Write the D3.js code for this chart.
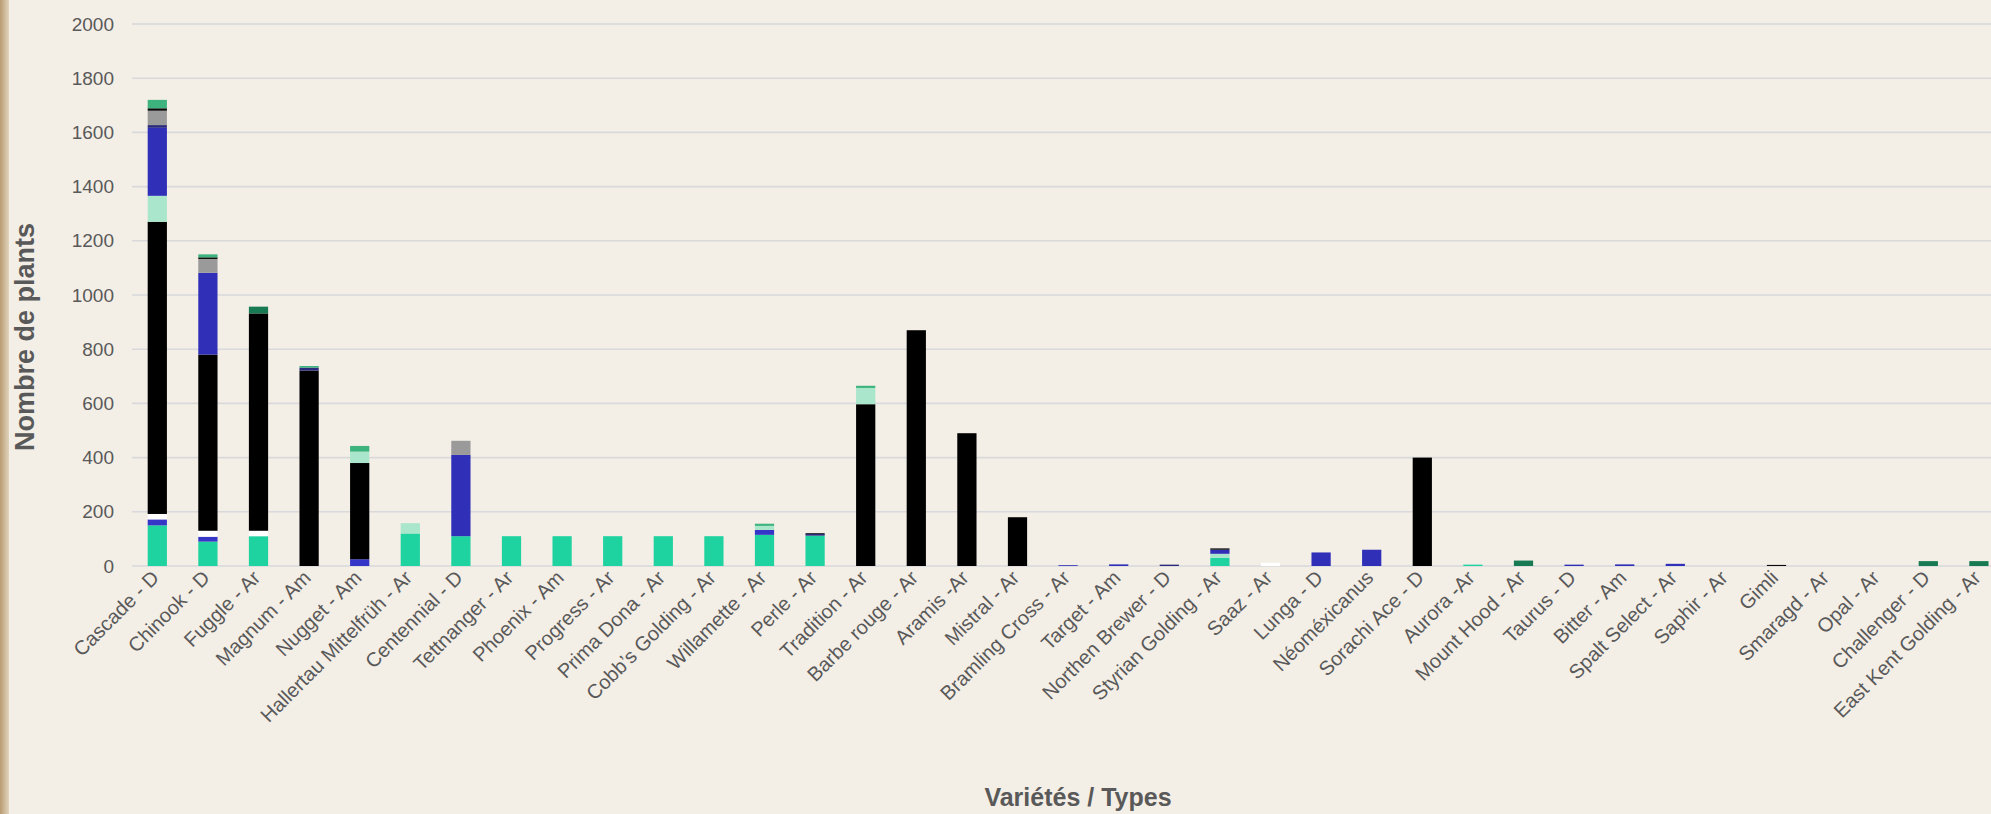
<!DOCTYPE html>
<html>
<head>
<meta charset="utf-8">
<script src="https://cdn.jsdelivr.net/npm/d3@7"></script>
<style>
    body { margin: 0; background: #f3eee6; }
    svg { display: block; }
</style>
</head>
<body>
<div id="chart-area"></div>
<script>
// categories + one array per stacked series (bottom to top)
var categories = ["Cascade - D", "Chinook - D", "Fuggle - Ar", "Magnum - Am", "Nugget - Am",
    "Hallertau Mittelfrüh - Ar", "Centennial - D", "Tettnanger - Ar", "Phoenix - Am", "Progress - Ar",
    "Prima Dona - Ar", "Cobb’s Golding - Ar", "Willamette - Ar", "Perle - Ar", "Tradition - Ar",
    "Barbe rouge - Ar", "Aramis -Ar", "Mistral - Ar", "Bramling Cross - Ar", "Target - Am",
    "Northen Brewer - D", "Styrian Golding - Ar", "Saaz - Ar", "Lunga - D", "Néoméxicanus",
    "Sorachi Ace - D", "Aurora -Ar", "Mount Hood - Ar", "Taurus - D", "Bitter - Am",
    "Spalt Select - Ar", "Saphir - Ar", "Gimli", "Smaragd - Ar", "Opal - Ar",
    "Challenger - D", "East Kent Golding - Ar"];

var teal      = [150, 90, 110, 0, 0, 120, 110, 110, 110, 110, 110, 110, 115, 112, 0, 0, 0, 0, 0, 0, 0, 30, 0, 0, 0, 0, 5, 0, 0, 0, 0, 0, 0, 0, 0, 0, 0];
var blueLow   = [22, 18, 0, 0, 25, 0, 0, 0, 0, 0, 0, 0, 18, 0, 0, 0, 0, 0, 0, 0, 0, 0, 0, 0, 0, 0, 0, 0, 0, 0, 0, 0, 0, 0, 0, 0, 0];
var white     = [20, 22, 20, 0, 0, 0, 0, 0, 0, 0, 0, 0, 0, 0, 0, 0, 0, 0, 0, 0, 0, 0, 12, 0, 0, 0, 0, 0, 0, 0, 0, 0, 0, 0, 0, 0, 0];
var black     = [1078, 650, 802, 721, 355, 0, 0, 0, 0, 0, 0, 0, 0, 0, 597, 870, 490, 180, 0, 0, 0, 0, 0, 0, 0, 400, 0, 0, 0, 0, 0, 0, 0, 0, 0, 0, 0];
var lightGreen= [96, 0, 0, 0, 42, 38, 0, 0, 0, 0, 0, 0, 15, 0, 60, 0, 0, 0, 0, 0, 0, 15, 0, 0, 0, 0, 0, 0, 0, 0, 0, 0, 0, 0, 0, 0, 0];
var blue      = [251, 302, 0, 0, 0, 0, 300, 0, 0, 0, 0, 0, 0, 0, 0, 0, 0, 0, 3, 6, 0, 15, 0, 50, 60, 0, 0, 0, 5, 6, 8, 0, 0, 0, 0, 0, 0];
var navy      = [10, 0, 0, 11, 0, 0, 0, 0, 0, 0, 0, 0, 0, 6, 0, 0, 0, 0, 0, 0, 5, 0, 0, 0, 0, 0, 0, 0, 0, 0, 0, 0, 0, 0, 0, 0, 0];
var gray      = [53, 51, 0, 0, 0, 0, 52, 0, 0, 0, 0, 0, 0, 0, 0, 0, 0, 0, 0, 0, 0, 0, 0, 0, 0, 0, 0, 0, 0, 0, 0, 0, 0, 0, 0, 0, 0];
var blackTop  = [9, 6, 0, 0, 0, 0, 0, 0, 0, 0, 0, 0, 0, 3, 0, 0, 0, 0, 0, 0, 0, 5, 0, 0, 0, 0, 0, 0, 0, 0, 0, 0, 4, 0, 0, 0, 0];
var green     = [31, 11, 0, 6, 21, 0, 0, 0, 0, 0, 0, 0, 8, 0, 8, 0, 0, 0, 0, 0, 0, 0, 0, 0, 0, 0, 0, 0, 0, 0, 0, 0, 0, 0, 0, 0, 0];
var darkGreen = [0, 0, 25, 0, 0, 0, 0, 0, 0, 0, 0, 0, 0, 0, 0, 0, 0, 0, 0, 0, 0, 0, 0, 0, 0, 0, 0, 20, 0, 0, 0, 0, 0, 0, 0, 18, 18];

var yTicks = [0, 200, 400, 600, 800, 1000, 1200, 1400, 1600, 1800, 2000];

var width = 1991;
var height = 814;
var margin = {top: 24, left: 132, bottom: 566};

var seriesList = [
    {key: "teal", values: teal, color: "#1fd3a0"},
    {key: "blueLow", values: blueLow, color: "#3535c8"},
    {key: "white", values: white, color: "#ffffff"},
    {key: "black", values: black, color: "#000000"},
    {key: "lightGreen", values: lightGreen, color: "#a9e6cb"},
    {key: "blue", values: blue, color: "#2f2fb8"},
    {key: "navy", values: navy, color: "#2a2a7c"},
    {key: "gray", values: gray, color: "#9a9a9a"},
    {key: "blackTop", values: blackTop, color: "#0a0a0a"},
    {key: "green", values: green, color: "#3db47e"},
    {key: "darkGreen", values: darkGreen, color: "#177a52"}
];

var rows = categories.map(function(c, i) {
    var row = {name: c};
    seriesList.forEach(function(s) { row[s.key] = s.values[i]; });
    return row;
});

var svg = d3.select("#chart-area").append("svg")
    .attr("width", width)
    .attr("height", height);

// tan strip on the left edge
var defs = svg.append("defs");
var grad = defs.append("linearGradient").attr("id", "edge");
grad.append("stop").attr("offset", "0%").attr("stop-color", "#b89c72");
grad.append("stop").attr("offset", "100%").attr("stop-color", "#e2d4bd");
svg.append("rect").attr("width", width).attr("height", height).attr("fill", "#f3eee6");
svg.append("rect").attr("width", 9).attr("height", height).attr("fill", "url(#edge)");

var x = d3.scaleBand()
    .domain(categories)
    .range([margin.left, margin.left + 37 * 50.6])
    .paddingInner(0.62)
    .paddingOuter(0.31);

var y = d3.scaleLinear()
    .domain([0, 2000])
    .range([margin.bottom, margin.top]);

// GRID
svg.append("g")
    .selectAll("line")
    .data(yTicks)
    .enter()
    .append("line")
    .attr("x1", margin.left)
    .attr("x2", width)
    .attr("y1", function(d) { return y(d); })
    .attr("y2", function(d) { return y(d); })
    .attr("stroke", "#d9d9dc")
    .attr("stroke-width", 1.6);

// Y AXIS
var yAxis = d3.axisLeft(y).tickValues(yTicks).tickFormat(d3.format("d")).tickSize(0).tickPadding(0);
var yg = svg.append("g")
    .attr("transform", "translate(114, 0)")
    .call(yAxis);
yg.select(".domain").remove();
yg.selectAll("text")
    .attr("fill", "#595959")
    .style("font-family", "Liberation Sans, Arial, sans-serif")
    .style("font-size", "19px");

// BARS
var stack = d3.stack().keys(seriesList.map(function(s) { return s.key; }));
var layers = stack(rows);

svg.append("g")
    .selectAll("g")
    .data(layers)
    .enter()
    .append("g")
    .attr("fill", function(d, i) { return seriesList[i].color; })
    .selectAll("rect")
    .data(function(d) { return d; })
    .enter()
    .append("rect")
    .attr("x", function(d) { return x(d.data.name); })
    .attr("width", x.bandwidth())
    .attr("y", function(d) { return y(d[1]); })
    .attr("height", function(d) { return y(d[0]) - y(d[1]); });

// X AXIS
var xAxis = d3.axisBottom(x).tickSize(0).tickPadding(0);
var xg = svg.append("g")
    .attr("transform", "translate(0," + margin.bottom + ")")
    .call(xAxis);
xg.select(".domain").remove();
xg.selectAll("text")
    .attr("fill", "#595959")
    .style("font-family", "Liberation Sans, Arial, sans-serif")
    .style("font-size", "20px")
    .attr("text-anchor", "end")
    .attr("dy", "0")
    .attr("transform", "translate(3, 13) rotate(-45)");

// AXIS TITLES
svg.append("text")
    .attr("x", 1078)
    .attr("y", 806)
    .attr("text-anchor", "middle")
    .attr("fill", "#595959")
    .style("font-family", "Liberation Sans, Arial, sans-serif")
    .style("font-weight", "bold")
    .style("font-size", "25px")
    .text("Variétés / Types");

svg.append("text")
    .attr("transform", "translate(34, 337) rotate(-90)")
    .attr("text-anchor", "middle")
    .attr("fill", "#595959")
    .style("font-family", "Liberation Sans, Arial, sans-serif")
    .style("font-weight", "bold")
    .style("font-size", "27px")
    .text("Nombre de plants");
</script>
</body>
</html>
